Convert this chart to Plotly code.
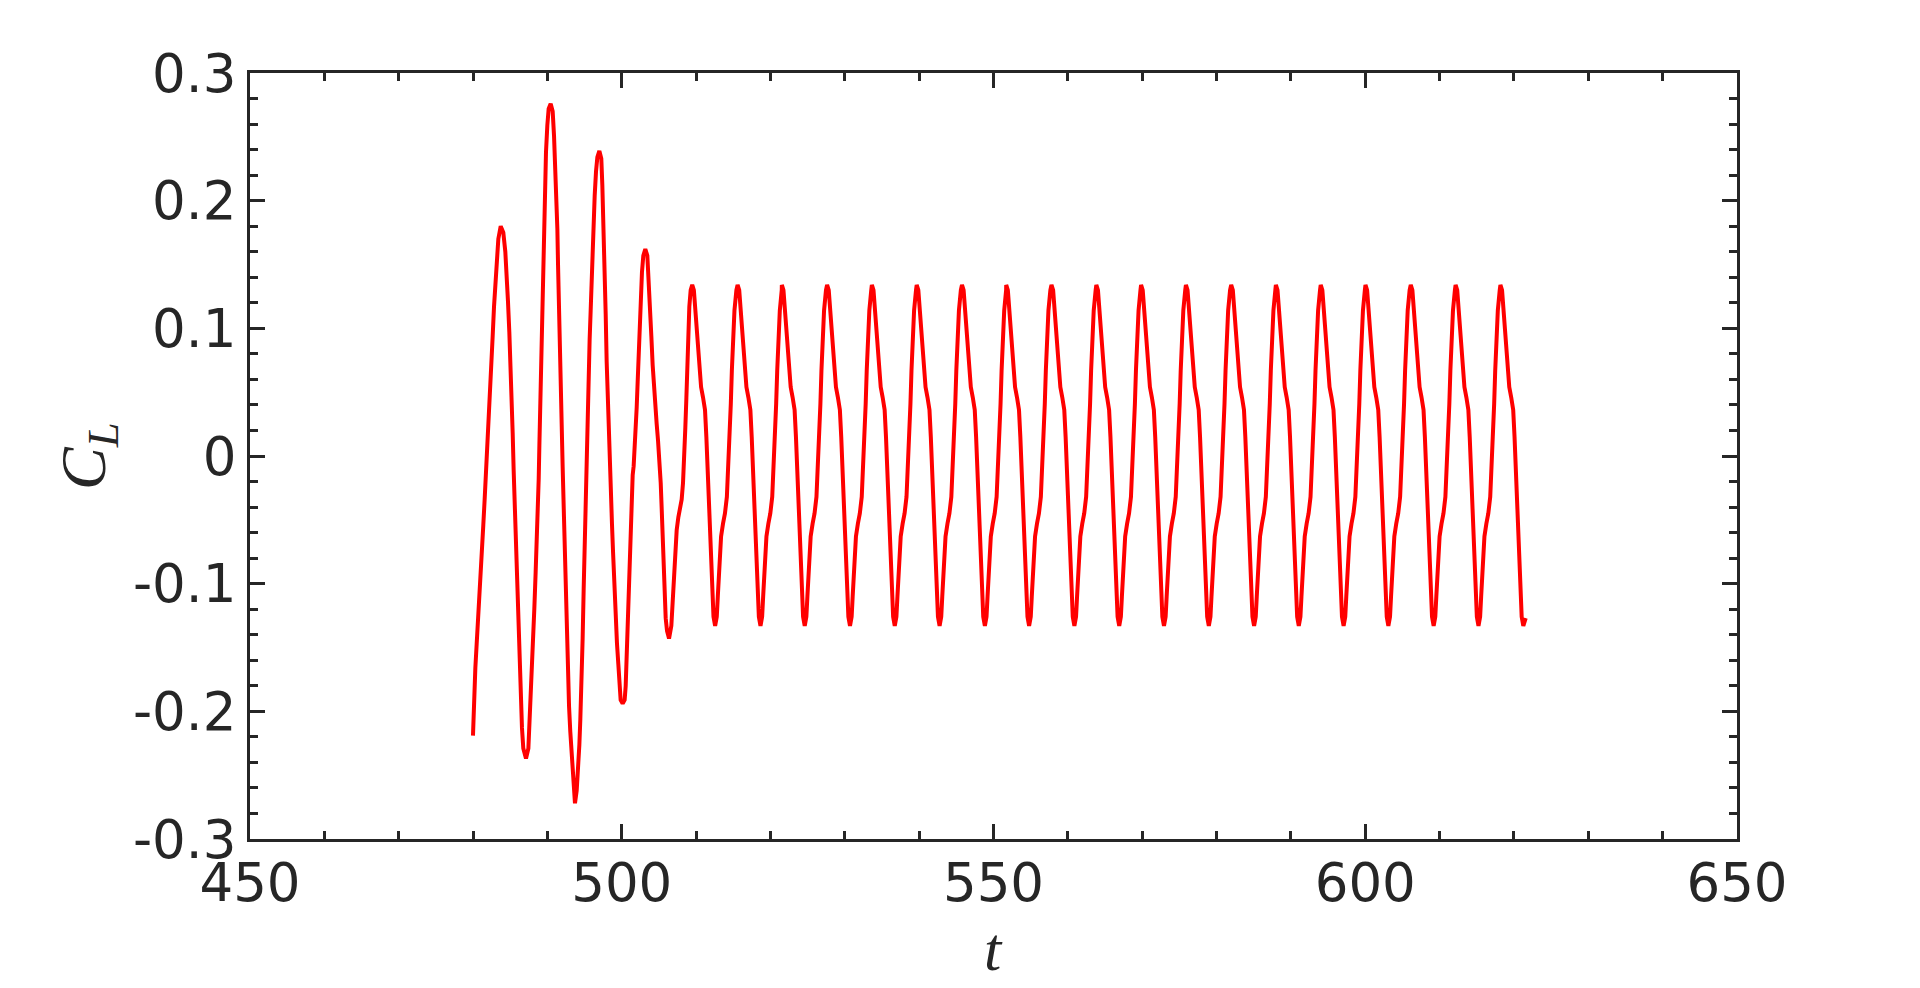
import plotly.graph_objects as go

# ---- data ----
# transient part (t from 480 to ~509.3)
transient_t = [479.99, 480.08, 480.17, 480.31, 480.49, 480.67, 480.85, 481.03, 481.20, 481.38,
               481.56, 481.74, 481.92, 482.10, 482.28, 482.46, 482.64, 482.82, 483.00, 483.18,
               483.40, 483.72, 484.07, 484.34, 484.52, 484.70, 484.88, 485.06, 485.19, 485.33,
               485.46, 485.60, 485.73, 485.87, 486.00, 486.14, 486.27, 486.45, 486.58, 486.76,
               487.12, 487.44, 487.57, 487.75, 487.88, 488.11, 488.24, 488.42, 488.56, 488.69,
               488.83, 488.92, 489.01, 489.10, 489.18, 489.27, 489.36, 489.54, 489.68, 489.81,
               489.99, 490.17, 490.44, 490.71, 490.89, 491.02, 491.16, 491.34, 491.43, 491.56,
               491.70, 491.87, 492.05, 492.23, 492.37, 492.50, 492.64, 492.77, 492.91, 493.08,
               493.26, 493.40, 493.53, 493.71, 493.94, 494.12, 494.30, 494.43, 494.61, 494.74,
               494.88, 495.01, 495.15, 495.28, 495.42, 495.55, 495.68, 495.82, 496.00, 496.18,
               496.36, 496.54, 496.72, 496.99, 497.25, 497.39, 497.52, 497.66, 497.75, 497.84,
               497.97, 498.11, 498.29, 498.42, 498.55, 498.69, 498.82, 498.96, 499.09, 499.23,
               499.36, 499.54, 499.68, 499.85, 500.12, 500.39, 500.53, 500.66, 500.80, 500.93,
               501.06, 501.20, 501.33, 501.47, 501.60, 501.74, 501.87, 502.01, 502.14, 502.28,
               502.41, 502.54, 502.72, 502.90, 503.17, 503.44, 503.62, 503.80, 503.98, 504.16,
               504.34, 504.52, 504.70, 504.88, 505.06, 505.24, 505.37, 505.50, 505.64, 505.77,
               505.91, 506.09, 506.36, 506.67, 506.85, 507.03, 507.21, 507.39, 507.61, 507.84,
               508.06, 508.24, 508.42, 508.55, 508.69, 508.82, 508.96, 509.09, 509.27]
transient_cl = [-0.219, -0.196, -0.185, -0.166, -0.147, -0.130, -0.114, -0.097, -0.074, -0.054,
                -0.034, -0.015, 0.005, 0.025, 0.048, 0.071, 0.094, 0.117, 0.137, 0.154,
                0.170, 0.180, 0.175, 0.160, 0.144, 0.121, 0.097, 0.071, 0.041, 0.018,
                -0.011, -0.038, -0.064, -0.091, -0.117, -0.140, -0.163, -0.190, -0.213, -0.229,
                -0.237, -0.229, -0.213, -0.193, -0.173, -0.147, -0.120, -0.091, -0.071, -0.044,
                -0.018, 0.008, 0.031, 0.058, 0.084, 0.117, 0.147, 0.186, 0.212, 0.238,
                0.259, 0.272, 0.276, 0.270, 0.251, 0.233, 0.207, 0.178, 0.150, 0.111,
                0.071, 0.031, -0.008, -0.048, -0.081, -0.114, -0.143, -0.173, -0.196, -0.216,
                -0.232, -0.249, -0.259, -0.272, -0.262, -0.246, -0.226, -0.206, -0.176, -0.143,
                -0.104, -0.067, -0.031, 0.005, 0.038, 0.071, 0.091, 0.114, 0.150, 0.181,
                0.204, 0.223, 0.234, 0.239, 0.233, 0.212, 0.186, 0.165, 0.150, 0.111,
                0.074, 0.045, 0.018, -0.005, -0.031, -0.054, -0.074, -0.097, -0.117, -0.134,
                -0.147, -0.163, -0.180, -0.191, -0.194, -0.191, -0.180, -0.157, -0.134, -0.100,
                -0.071, -0.048, -0.028, -0.015, -0.008, 0.005, 0.018, 0.038, 0.058, 0.084,
                0.107, 0.127, 0.144, 0.157, 0.162, 0.157, 0.140, 0.121, 0.094, 0.071,
                0.051, 0.035, 0.025, 0.012, -0.001, -0.021, -0.041, -0.064, -0.091, -0.110,
                -0.127, -0.137, -0.143, -0.133, -0.114, -0.087, -0.071, -0.058, -0.048, -0.041,
                -0.034, -0.021, -0.001, 0.022, 0.045, 0.071, 0.094, 0.117, 0.130]

# times of the peaks of the periodic regime
peak_t = [509.48, 515.58, 521.53, 527.62, 533.64, 539.67, 545.76, 551.71, 557.80, 563.83,
          569.85, 575.88, 581.97, 587.98, 594.01, 600.03, 606.12, 612.15, 618.18]

# shape of one periodic cycle, measured from its peak
cycle_dt = [0.00, 0.22, 0.44, 0.57, 0.75, 0.97, 1.19, 1.45, 1.72, 1.90, 2.07, 2.25, 2.43, 2.55,
            2.73, 2.86, 3.08, 3.30, 3.44, 3.56, 3.70, 3.88, 4.14, 4.40, 4.66, 4.84, 5.02, 5.19,
            5.33, 5.51, 5.68, 5.94]
cycle_cl = [0.134, 0.130, 0.112, 0.099, 0.080, 0.065, 0.054, 0.046, 0.036, 0.015, -0.011, -0.037,
            -0.063, -0.089, -0.115, -0.126, -0.133, -0.126, -0.110, -0.095, -0.079, -0.063, -0.053,
            -0.045, -0.032, -0.011, 0.015, 0.041, 0.067, 0.093, 0.114, 0.130]

end_t = [621.58]
end_cl = [-0.127]

x_ticks = [450, 500, 550, 600, 650]
y_ticks = [-0.3, -0.2, -0.1, 0, 0.1, 0.2, 0.3]
y_ticktext = ['-0.3', '-0.2', '-0.1', '0', '0.1', '0.2', '0.3']

# ---- assemble the series ----
t = list(transient_t)
cl = list(transient_cl)
trough_idx = cycle_cl.index(min(cycle_cl))
for i, p in enumerate(peak_t):
    n = len(cycle_dt) if i < len(peak_t) - 1 else trough_idx + 1
    for dt, c in zip(cycle_dt[:n], cycle_cl[:n]):
        t.append(round(p + dt, 3))
        cl.append(c)
t += end_t
cl += end_cl

INK = '#262626'
fig = go.Figure()
fig.add_trace(go.Scatter(x=t, y=cl, mode='lines',
                         line=dict(color='#ff0000', width=4), showlegend=False))

axis_common = dict(
    showline=True, linecolor=INK, linewidth=3, mirror='ticks',
    ticks='inside', ticklen=15, tickwidth=2.5, tickcolor=INK,
    showgrid=False, zeroline=False,
    tickfont=dict(family='DejaVu Sans', size=53, color=INK),
)

fig.update_xaxes(range=[450, 650], tickvals=x_ticks, ticklabelstandoff=-5,
                 minor=dict(dtick=10, tick0=450, ticks='inside', ticklen=8,
                            tickwidth=2.5, tickcolor=INK, showgrid=False),
                 **axis_common)
fig.update_yaxes(range=[-0.3, 0.3], tickvals=y_ticks, ticktext=y_ticktext,
                 ticklabelstandoff=0,
                 minor=dict(dtick=0.02, tick0=-0.3, ticks='inside', ticklen=8,
                            tickwidth=2.5, tickcolor=INK, showgrid=False),
                 **axis_common)

fig.update_layout(
    width=1920, height=988,
    margin=dict(l=250, r=183, t=73, b=149),
    paper_bgcolor='white', plot_bgcolor='white',
    annotations=[
        dict(text='<i>t</i>', xref='paper', yref='paper', x=0.5, y=-0.1436,
             xanchor='center', yanchor='middle', showarrow=False,
             font=dict(family='Liberation Serif', size=62, color=INK)),
        dict(text='<i>C</i><sub><i>L</i></sub>', xref='paper', yref='paper',
             x=-0.109, y=0.5, xanchor='center', yanchor='middle', textangle=-90,
             showarrow=False,
             font=dict(family='Liberation Serif', size=64, color=INK)),
    ],
)

fig.write_html('out.html', config={'displayModeBar': False},
               post_script="document.body.style.margin='0';")
